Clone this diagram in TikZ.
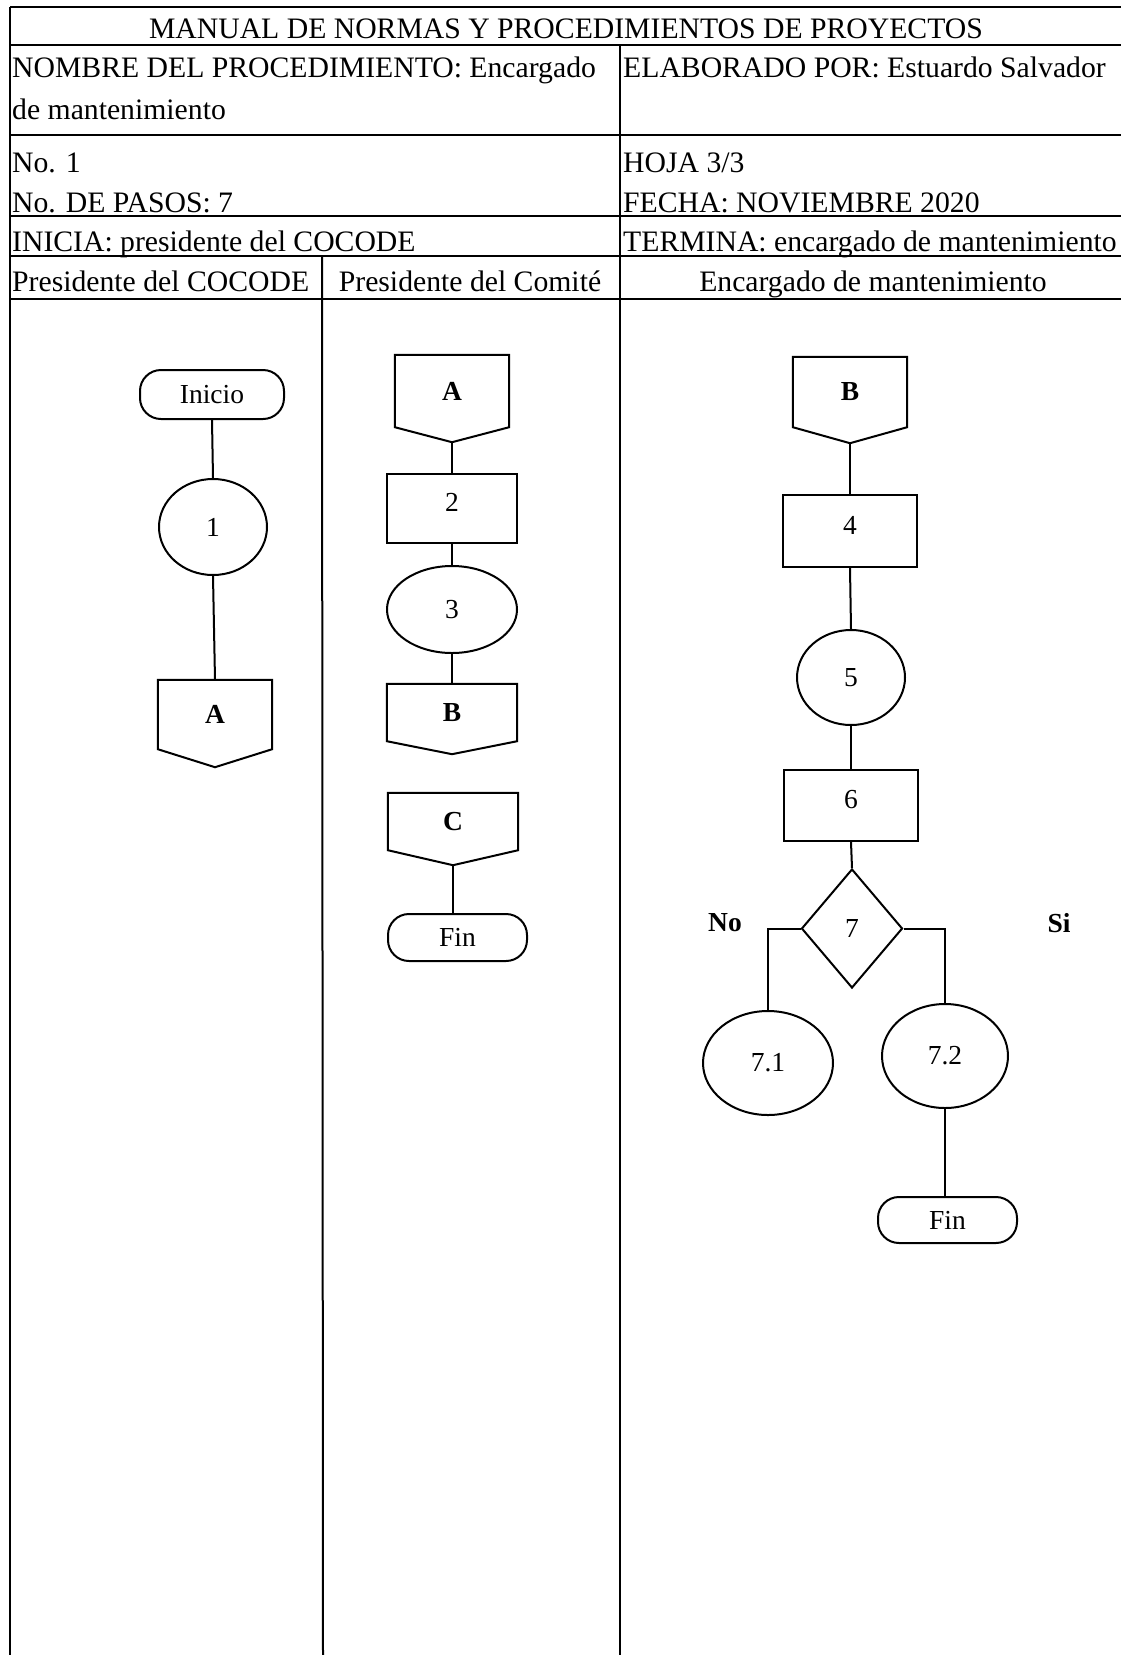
\documentclass[tikz,border=0pt]{standalone}
\usepackage{fontspec}
\setmainfont{Liberation Serif}
\usetikzlibrary{shapes.geometric,calc}
\tikzset{
  ln/.style={line width=2pt, draw=black},
  tbl/.style={font=\fontsize{29.7}{40}\selectfont, inner sep=0pt, anchor=base west},
  lbl/.style={font=\fontsize{27.5}{32}\selectfont, inner sep=0pt},
  term/.style={ln, rectangle, rounded corners=21pt, lbl},
  proc/.style={ln, rectangle, lbl, text depth=12pt},
  ell/.style={ln, ellipse, lbl},
  dec/.style={ln, diamond, lbl},
  opg/.style={lbl, font=\fontsize{27.5}{32}\selectfont\bfseries},
  yesno/.style={lbl, font=\fontsize{27.5}{32}\selectfont\bfseries},
}
% off-page connector: name, x centre, y top, width, rect height, point depth, label
\newcommand{\offpg}[7]{%
  \node[opg, minimum width=#4pt, minimum height=#5pt] (#1) at (#2, {#3+#5/2}) {#7};
  \draw[ln, line join=miter] (#1.north west) -- (#1.north east) -- (#1.south east)
     -- ($(#1.south)+(0,#6)$) coordinate (#1tip) -- (#1.south west) -- cycle;}
\begin{document}
\begin{tikzpicture}[x=1pt, y=-1pt]
\useasboundingbox (0,0) rectangle (1121,1655);
\fill[white] (0,0) rectangle (1121,1655);

% ---------- table frame ----------
\draw[ln] (10,7) -- (1121,7);
\draw[ln] (10,45) -- (1121,45);
\draw[ln] (10,135) -- (1121,135);
\draw[ln] (10,216) -- (1121,216);
\draw[ln] (10,256) -- (1121,256);
\draw[ln] (10,299) -- (1121,299);
\draw[ln] (10,7) -- (10,1655);
\draw[ln] (620,45) -- (620,1655);
\draw[ln] (322,256) -- (323,1655);

% ---------- table texts ----------
\node[tbl, anchor=base] (title) at (566,38.5) {MANUAL DE NORMAS Y PROCEDIMIENTOS DE PROYECTOS};
\node[tbl] (nom1) at (12,77) {NOMBRE DEL PROCEDIMIENTO: Encargado};
\node[tbl] (nom2) at (12,119) {de mantenimiento};
\node[tbl] (elab) at (623,77) {ELABORADO POR: Estuardo Salvador};
\node[tbl] (no1) at (12,172) {No. 1};
\node[tbl] (pasos) at (12,212) {No. DE PASOS: 7};
\node[tbl] (hoja) at (623,172) {HOJA 3/3};
\node[tbl] (fecha) at (623,212) {FECHA: NOVIEMBRE 2020};
\node[tbl] (inicia) at (12,251) {INICIA: presidente del COCODE};
\node[tbl] (termina) at (623,251) {TERMINA: encargado de mantenimiento};
\node[tbl] (h1) at (12,291) {Presidente del COCODE};
\node[tbl, anchor=base] (h2) at (470,291) {Presidente del Comité};
\node[tbl, anchor=base] (h3) at (873,291) {Encargado de mantenimiento};

% ---------- lane 1 ----------
\node[term, minimum width=144pt, minimum height=49pt] (ini) at (212,394.5) {Inicio};
\node[ell, minimum width=108pt, minimum height=96pt] (c1) at (213,527) {1};
\offpg{A1}{215}{680}{114}{69}{18}{A}
\draw[ln] (ini.south) -- (c1.north);
\draw[ln] (c1.south) -- (A1.north);

% ---------- lane 2 ----------
\offpg{A2}{452}{355}{114}{72}{15}{A}
\node[proc, minimum width=130pt, minimum height=69pt] (b2) at (452,508.5) {2};
\node[ell, minimum width=130pt, minimum height=87pt] (e3) at (452,609.5) {3};
\offpg{B2}{452}{684}{130}{57}{13}{B}
\offpg{C2}{453}{793}{130}{57}{15}{C}
\node[term, minimum width=139pt, minimum height=47pt] (fin2) at (457.5,937.5) {Fin};
\draw[ln] (A2tip) -- (b2.north);
\draw[ln] (b2.south) -- (e3.north);
\draw[ln] (e3.south) -- (B2.north);
\draw[ln] (C2tip) -- (C2tip |- fin2.north);

% ---------- lane 3 ----------
\offpg{B3}{850}{357}{114}{70}{16}{B}
\node[proc, minimum width=134pt, minimum height=72pt] (b4) at (850,531) {4};
\node[ell, minimum width=108pt, minimum height=95pt] (c5) at (851,677.5) {5};
\node[proc, minimum width=134pt, minimum height=71pt] (b6) at (851,805.5) {6};
\node[dec, minimum width=101pt, minimum height=119pt] (d7) at (852,928.5) {7};
\node[ell, minimum width=130pt, minimum height=104pt] (e71) at (768,1063) {7.1};
\node[ell, minimum width=126pt, minimum height=104pt] (e72) at (945,1056) {7.2};
\node[term, minimum width=139pt, minimum height=46pt] (fin3) at (947.5,1220) {Fin};
\node[yesno] (no) at (725,923) {No};
\node[yesno] (si) at (1059,923) {Si};
\draw[ln] (B3tip) -- (b4.north);
\draw[ln] (b4.south) -- (c5.north);
\draw[ln] (c5.south) -- (b6.north);
\draw[ln] (b6.south) -- (d7.north);
\draw[ln] (d7.west) -| (e71.north);
\draw[ln] (d7.east) -| (e72.north);
\draw[ln] (e72.south) -- (e72.south |- fin3.north);
\end{tikzpicture}
\end{document}
